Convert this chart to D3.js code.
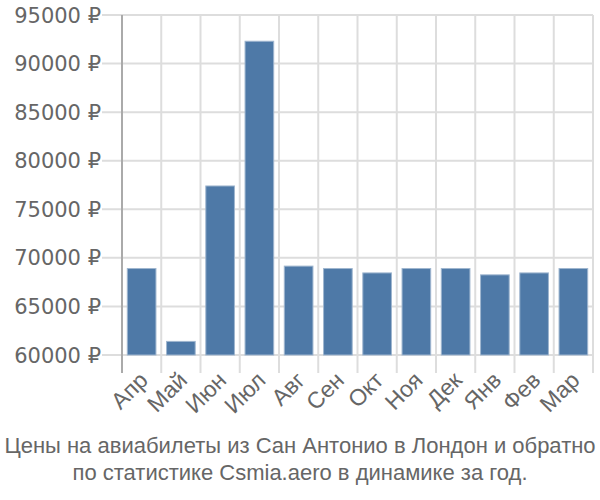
<!DOCTYPE html>
<html><head><meta charset="utf-8">
<script src="https://cdn.jsdelivr.net/npm/d3@7"></script>
<style>body{margin:0;background:#fff}</style>
</head><body>
<svg id="c" width="600" height="500"></svg>
<script>
const months = ["Апр","Май","Июн","Июл","Авг","Сен","Окт","Ноя","Дек","Янв","Фев","Мар"];
const prices = [68900, 61400, 77400, 92300, 69150, 68900, 68450, 68900, 68900, 68250, 68450, 68900];
const yTicks = [60000, 65000, 70000, 75000, 80000, 85000, 90000, 95000];
const titleLines = ["Цены на авиабилеты из Сан Антонио в Лондон и обратно", "по статистике Csmia.aero в динамике за год."];

const svg = d3.select("#c");
const L = 122, R = 593, T = 15, B = 355;
const x = d3.scaleBand().domain(months).range([L, R]).padding(0);
const y = d3.scaleLinear().domain([60000, 95000]).range([B, T]);
const font = "Liberation Sans, Arial, sans-serif";

// horizontal grid + tick marks
svg.append("g").selectAll("line").data(yTicks).join("line")
  .attr("x1", L - 20).attr("x2", R).attr("y1", d => y(d)).attr("y2", d => y(d))
  .attr("stroke", "#dddddd").attr("stroke-width", 2);
// vertical grid
const bounds = months.map(m => x(m)).concat([R]);
svg.append("g").selectAll("line").data(bounds.slice(1)).join("line")
  .attr("x1", d => d).attr("x2", d => d).attr("y1", T).attr("y2", B + 18)
  .attr("stroke", "#dddddd").attr("stroke-width", 2);
// y axis line
svg.append("line").attr("x1", L).attr("x2", L).attr("y1", T).attr("y2", B + 18)
  .attr("stroke", "#aaaaaa").attr("stroke-width", 2);

// bars
const bw = x.bandwidth();
svg.append("g").selectAll("rect").data(prices).join("rect")
  .attr("x", (d, i) => x(months[i]) + bw * 0.135)
  .attr("width", bw * 0.73)
  .attr("y", d => y(d))
  .attr("height", d => B - y(d))
  .attr("fill", "#4e79a7")
  .attr("stroke", "#9fb6cf").attr("stroke-width", 1);

// y labels
svg.append("g").selectAll("text").data(yTicks).join("text")
  .attr("x", L - 21).attr("y", d => y(d)).attr("dy", "0.36em")
  .attr("text-anchor", "end").attr("font-family", "DejaVu Sans, sans-serif").attr("font-size", 21)
  .attr("fill", "#666666").text(d => d + " ₽");

// x labels
svg.append("g").selectAll("text").data(months).join("text")
  .attr("transform", m => `translate(${x(m) + bw / 2 + 2},${B + 21}) rotate(-45)`)
  .attr("text-anchor", "end").attr("dy", "0.35em")
  .attr("font-family", font).attr("font-size", 23).attr("fill", "#666666")
  .text(m => m);

// title
svg.append("g").selectAll("text").data(titleLines).join("text")
  .attr("x", 300).attr("y", (d, i) => 453 + i * 27)
  .attr("text-anchor", "middle").attr("font-family", font).attr("font-size", 22)
  .attr("fill", "#666666").text(d => d);
</script>
</body></html>
